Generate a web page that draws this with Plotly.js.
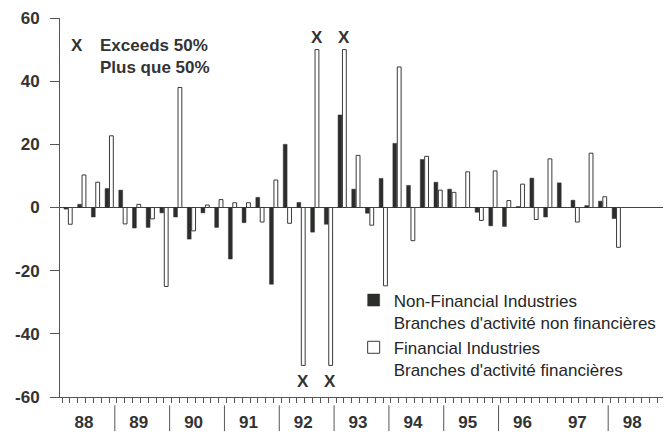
<!DOCTYPE html>
<html>
<head>
<meta charset="utf-8">
<script src="https://cdn.plot.ly/plotly-3.0.1.min.js"></script>
<style>
  html, body { margin: 0; padding: 0; background: #ffffff; }
  #chart { width: 672px; height: 434px; }
</style>
</head>
<body>
<div id="chart"></div>
<script>
// ---- Data (quarterly, 1988 Q1 – 1998 Q4), per cent ----
const years = ['88', '89', '90', '91', '92', '93', '94', '95', '96', '97', '98'];
const quarterNames = ['Q1', 'Q2', 'Q3', 'Q4'];

// Non-Financial Industries / Branches d'activité non financières
const nonFinancial = [
  -0.5, 1, -3, 6,        // 1988
  5.5, -6.5, -6.3, -1.7, // 1989
  -3, -10, -1.7, -6.3,   // 1990
  -16.3, -4.8, 3.2, -24.3, // 1991
  20, 1.6, -7.8, -5.3,   // 1992
  29.3, 5.8, -1.8, 9.2,  // 1993
  20.3, 7, 15.2, 8,      // 1994
  5.8, 0, -1.5, -5.8,    // 1995
  -6, 0.3, 9.3, -3,      // 1996
  7.8, 2.3, 0.6, 2,      // 1997
  -3.5, null, null, null // 1998
];

// Financial Industries / Branches d'activité financières (bars capped at ±50)
const financial = [
  -5.3, 10.3, 8, 22.7,
  -5.2, 1, -3.6, -25,
  38, -7.4, 0.8, 2.5,
  1.5, 1.5, -4.6, 8.7,
  -5, -50, 50, -50,
  50, 16.5, -5.6, -24.8,
  44.5, -10.5, 16.2, 5.5,
  4.8, 11.3, -4.1, 11.6,
  2.2, 7.4, -3.8, 15.4,
  0, -4.6, 17.2, 3.4,
  -12.6, null, null, null
];

// Quarters whose financial value exceeds 50%
const exceeds50 = ['92 Q2', '92 Q3', '92 Q4', '93 Q1'];

// Year separators drawn under the axis (the reference shows none before 97)
const separatorYears = ['89', '90', '91', '92', '93', '94', '95', '96', '98'];

// ---- Build ----
const quarterLabels = [];
years.forEach(y => quarterNames.forEach(q => quarterLabels.push(y + ' ' + q)));
const qIndex = quarterLabels.map((_, i) => i);

const textColor = '#333333';
const axisColor = '#555555';
const fontFamily = 'Liberation Sans, Arial, sans-serif';

const traceNonFin = {
  type: 'bar',
  name: "Non-Financial Industries<br>Branches d'activité non financières",
  x: qIndex,
  y: nonFinancial,
  text: quarterLabels,
  hovertemplate: '%{text}: %{y}<extra></extra>',
  textposition: 'none',
  offset: 0.29,
  width: 0.28,
  marker: { color: '#2c2e2c', line: { color: '#2c2e2c', width: 0.5 } }
};

const traceFin = {
  type: 'bar',
  name: "Financial Industries<br>Branches d'activité financières",
  x: qIndex,
  y: financial,
  text: quarterLabels,
  hovertemplate: '%{text}: %{y}<extra></extra>',
  textposition: 'none',
  offset: 0.61,
  width: 0.28,
  marker: { color: '#ffffff', line: { color: '#3a3a3a', width: 1 } }
};

const annotations = [];
// "X" markers for bars exceeding 50%
exceeds50.forEach(lbl => {
  const i = quarterLabels.indexOf(lbl);
  const v = financial[i];
  annotations.push({
    x: i + 0.72, y: v, xref: 'x', yref: 'y',
    text: 'X', showarrow: false,
    xanchor: 'center', yanchor: v > 0 ? 'bottom' : 'top',
    yshift: v > 0 ? 1 : -5,
    font: { family: fontFamily, size: 17, color: textColor, weight: 'bold' }
  });
});
// Key for the X marker
annotations.push({
  x: 0.028, y: 0.958, xref: 'paper', yref: 'paper',
  text: 'X', showarrow: false, xanchor: 'center', yanchor: 'top',
  font: { family: fontFamily, size: 17, color: textColor, weight: 'bold' }
});
annotations.push({
  x: 0.063, y: 0.958, xref: 'paper', yref: 'paper',
  text: 'Exceeds 50%<br>Plus que 50%', showarrow: false,
  xanchor: 'left', yanchor: 'top', align: 'left',
  font: { family: fontFamily, size: 17, color: textColor, weight: 'bold' }
});

// Year separator marks below the axis
const yearIndex = y => years.indexOf(y) * 4;
const shapes = separatorYears.map(y => ({
  type: 'line', xref: 'x', yref: 'paper',
  x0: yearIndex(y), x1: yearIndex(y), y0: -0.022, y1: -0.09,
  line: { color: axisColor, width: 1 }
}));

const layout = {
  width: 672,
  height: 434,
  margin: { l: 60, r: 9, t: 18, b: 37 },
  paper_bgcolor: '#ffffff',
  plot_bgcolor: '#ffffff',
  barmode: 'overlay',
  showlegend: true,
  legend: {
    x: 0.487, y: 0.302, xanchor: 'left', yanchor: 'top',
    bgcolor: 'rgba(0,0,0,0)',
    valign: 'top',
    itemwidth: 30,
    font: { family: fontFamily, size: 17, color: '#262626' }
  },
  xaxis: {
    range: [0, 44],
    showgrid: false,
    zeroline: false,
    showline: true,
    linecolor: axisColor,
    linewidth: 1,
    tickmode: 'array',
    tickvals: years.map((y, k) => k * 4 + 1.75),
    ticktext: years,
    ticks: 'outside',
    ticklen: 10,
    tickcolor: 'rgba(0,0,0,0)',
    tickfont: { family: fontFamily, size: 17, color: textColor, weight: 'bold' },
    minor: {
      ticks: 'outside', ticklen: 5, tickcolor: axisColor,
      tickmode: 'linear', tick0: 0.15, dtick: 4 / 7, showgrid: false
    },
    fixedrange: true
  },
  yaxis: {
    range: [-60, 60],
    showgrid: false,
    showline: true,
    linecolor: axisColor,
    linewidth: 1,
    zeroline: true,
    zerolinecolor: '#444444',
    zerolinewidth: 1.5,
    tickmode: 'array',
    tickvals: [-60, -40, -20, 0, 20, 40, 60],
    ticktext: ['-60', '-40', '-20', '0', '20', '40', '60'],
    ticks: 'outside',
    ticklen: 9,
    tickcolor: axisColor,
    ticklabelstandoff: 7,
    tickfont: { family: fontFamily, size: 17, color: textColor, weight: 'bold' },
    fixedrange: true
  },
  annotations: annotations,
  shapes: shapes
};

Plotly.newPlot('chart', [traceNonFin, traceFin], layout, { displayModeBar: false, staticPlot: true });
</script>
</body>
</html>
